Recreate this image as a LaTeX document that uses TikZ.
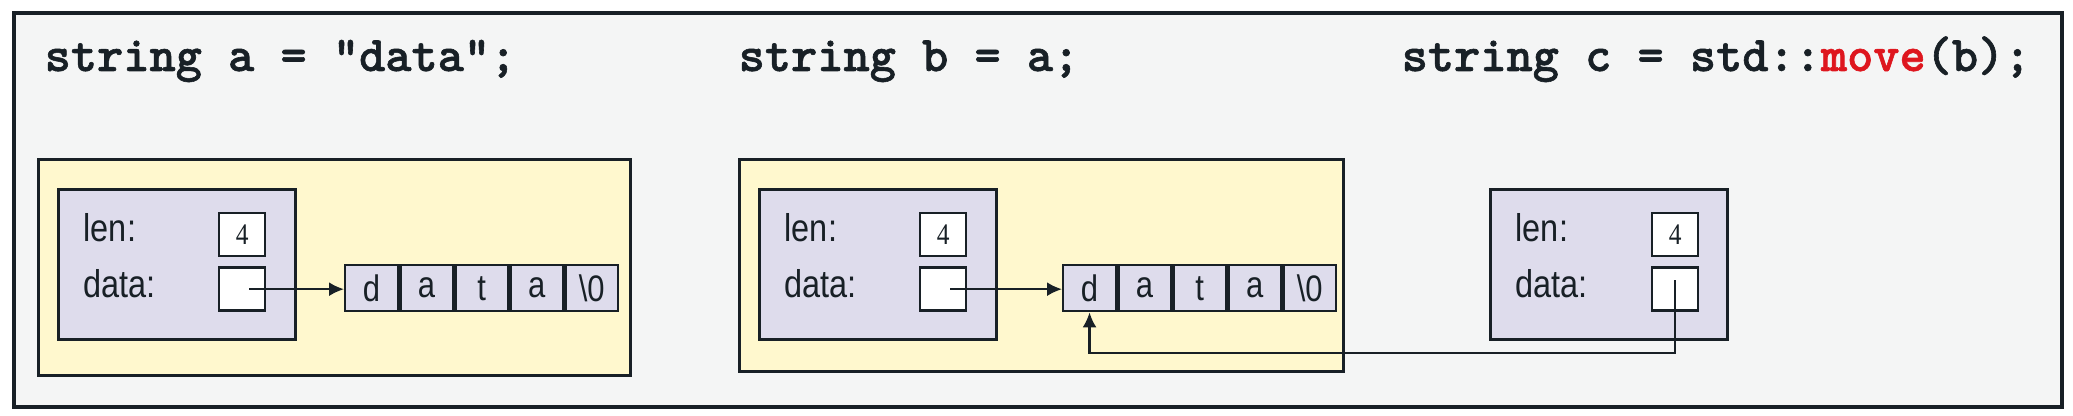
\documentclass[tikz,border=0pt]{standalone}
\usepackage{fontspec}
\newfontfamily\labelfont[FakeStretch=0.84]{Liberation Sans}
\newfontfamily\digitfont[FakeStretch=0.85]{Liberation Serif}
\newfontfamily\codefont{lmmonolt10-bold.otf}[FakeBold=1.2]
\usetikzlibrary{positioning,arrows.meta}
\definecolor{moveInk}{RGB}{24,32,38}
\definecolor{moveRed}{RGB}{222,22,30}
\definecolor{moveBack}{RGB}{244,245,245}
\definecolor{moveHeap}{RGB}{255,248,206}
\definecolor{moveObj}{RGB}{222,220,236}

\begin{document}
\begin{tikzpicture}[x=0.1mm, y=-0.1mm,
    frame/.style={draw=moveInk, fill=moveBack, line width=1pt, inner sep=0pt,
      minimum width=204.8mm, minimum height=39.4mm},
    code/.style={inner sep=0pt, text=moveInk,
      font=\codefont\fontsize{14.2}{16}\selectfont},
    heap/.style={draw=moveInk, fill=moveHeap, line width=0.8pt, inner sep=0pt,
      minimum height=21.6mm},
    obj/.style={draw=moveInk, fill=moveObj, line width=0.8pt, inner sep=0pt,
      minimum width=23.7mm, minimum height=15mm},
    lbl/.style={inner sep=0pt, text=moveInk, font=\labelfont\fontsize{11}{12}\selectfont},
    valbox/.style={draw=moveInk, fill=white, line width=0.7pt, inner sep=0pt,
      minimum width=4.6mm, minimum height=4.3mm, text=moveInk,
      font=\digitfont\fontsize{8.5}{9}\selectfont},
    cell/.style={draw=moveInk, fill=moveObj, line width=0.7pt, inner sep=0pt,
      minimum width=5.26mm, minimum height=4.6mm, text=moveInk,
      font=\labelfont\fontsize{10.5}{11}\selectfont},
    ptr/.style={-{Latex[length=1.5mm, width=1.4mm]}, line width=0.6pt, color=moveInk}
  ]
    \useasboundingbox (0,0) rectangle (2073,416);
    \node[frame, anchor=north west] (outer) at (12,11) {};

    \node[code, anchor=base west] (codea) at (44,71) {string a = "data";};
    \node[code, anchor=base west] (codeb) at (738,71) {string b = a;};
    \node[code, anchor=base west] (codec) at (1401,71)
      {string c = std::\textcolor{moveRed}{move}(b);};

    \node[heap, minimum width=59.2mm, anchor=north west] (heapa) at (37,158) {};
    \node[heap, minimum width=60.4mm, minimum height=21.2mm, anchor=north west] (heapb) at (738,158) {};

    \node[obj, anchor=north west] (obja) at (57,188) {};
    \node[obj, anchor=north west] (objb) at (758,188) {};
    \node[obj, anchor=north west] (objc) at (1489,188) {};

    \node[lbl, anchor=base west] (lenlbla) at (83,242) {len:};
    \node[lbl, anchor=base west] (datlbla) at (83,298) {data:};
    \node[lbl, anchor=base west] (lenlblb) at (784,242) {len:};
    \node[lbl, anchor=base west] (datlblb) at (784,298) {data:};
    \node[lbl, anchor=base west] (lenlblc) at (1515,242) {len:};
    \node[lbl, anchor=base west] (datlblc) at (1515,298) {data:};

    \node[valbox, anchor=north west] (lena) at (218,212) {4};
    \node[valbox, below=0.9mm of lena] (ptra) {};
    \node[valbox, anchor=north west] (lenb) at (919,212) {4};
    \node[valbox, below=0.9mm of lenb] (ptrb) {};
    \node[valbox, anchor=north west] (lenc) at (1651,212) {4};
    \node[valbox, below=0.9mm of lenc] (ptrc) {};

    \node[cell, anchor=north west] (a0) at (344,264) {d};
    \node[cell, right=0pt of a0] (a1) {a};
    \node[cell, right=0pt of a1] (a2) {t};
    \node[cell, right=0pt of a2] (a3) {a};
    \node[cell, right=0pt of a3] (a4) {\textbackslash 0};

    \node[cell, anchor=north west] (b0) at (1062,264) {d};
    \node[cell, right=0pt of b0] (b1) {a};
    \node[cell, right=0pt of b1] (b2) {t};
    \node[cell, right=0pt of b2] (b3) {a};
    \node[cell, right=0pt of b3] (b4) {\textbackslash 0};

    \coordinate (route) at (0,353);

    \draw[ptr] ([xshift=0.7mm]ptra.center) -- (ptra.center -| a0.west);
    \draw[ptr] ([xshift=0.7mm]ptrb.center) -- (ptrb.center -| b0.west);
    \draw[ptr] ([yshift=0.9mm]ptrc.center) -- (ptrc.center |- route)
      -- (b0.south |- route) -- (b0.south);
  \end{tikzpicture}
\end{document}
